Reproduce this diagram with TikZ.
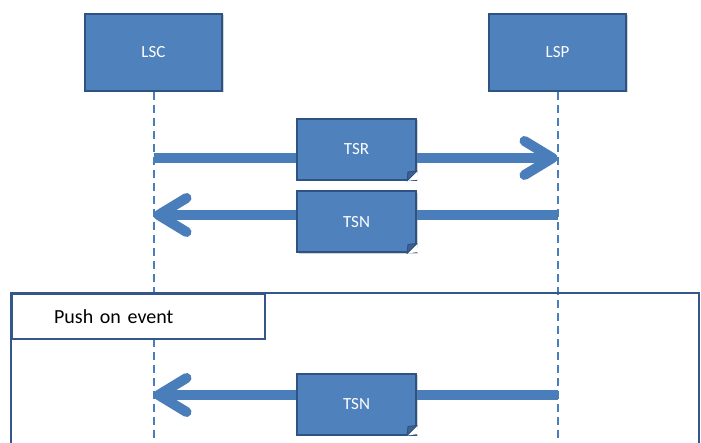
\documentclass[tikz,border=0pt]{standalone}
\usepackage{fontspec}
\setmainfont{Carlito}
\usetikzlibrary{arrows.meta,shadows}

\definecolor{boxfill}{HTML}{4F81BD}
\definecolor{boxline}{HTML}{2E5282}
\definecolor{msgline}{HTML}{4A7EBB}
\definecolor{framecol}{HTML}{34578A}

\tikzset{
	party/.style={draw=boxline, line width=2.2pt, fill=boxfill, text=white,
		minimum width=137pt, minimum height=77pt,
		drop shadow={opacity=0.35, shadow xshift=1.5pt, shadow yshift=-1.5pt},
		font=\fontsize{17}{20}\selectfont},
	msgbox/.style={draw=boxline, line width=2pt, fill=boxfill, text=white,
		minimum width=119pt, minimum height=61pt,
		drop shadow={opacity=0.35, shadow xshift=1.5pt, shadow yshift=-1.5pt},
		font=\fontsize{17}{20}\selectfont},
	lifeline/.style={msgline, line width=2pt, dash pattern=on 8pt off 5pt},
	msg/.style={msgline, line width=10pt,
		-{Straight Barb[length=28pt, width=34pt, round]}},
	frame/.style={framecol, line width=2.2pt}
}

% folded corner of a message box
\newcommand{\dogear}[1]{%
	\fill[white] ([xshift=-10pt]#1.south east) -- ([xshift=1.5pt,yshift=1.5pt]#1.south east) -- ([yshift=10pt]#1.south east) -- cycle;
	\filldraw[boxline, fill=boxfill!75!black, line width=1pt, line join=round] ([xshift=-10pt]#1.south east) -- ([xshift=-9pt,yshift=9pt]#1.south east) -- ([yshift=10pt]#1.south east) -- cycle;
}

\begin{document}
\begin{tikzpicture}[x=1pt, y=-1pt]
	\useasboundingbox (0,0) rectangle (701,443);

	\node [party] (lsc) at (153.5,52.5) {LSC};
	\node [party] (lsp) at (557.5,52.5) {LSP};

	\coordinate (lscend) at (lsc.south |- 0,443);
	\coordinate (lspend) at (lsp.south |- 0,443);
	\draw [lifeline] (lsc.south) -- (lscend);
	\draw [lifeline] (lsp.south) -- (lspend);

	% push on event frame
	\draw [frame] (11,448) -- (11,293) -- (699,293) -- (699,448);
	\node [draw=framecol, line width=2.2pt, fill=white, anchor=north west,
		minimum width=253pt, minimum height=45pt, text width=253pt, inner sep=0pt,
		align=left, font=\fontsize{20}{24}\selectfont] (push) at (11,293) {\hspace*{42pt}Push on event};

	% messages
	\coordinate (lscA) at (lsc.south |- 0,158);
	\coordinate (lspA) at (lsp.south |- 0,158);
	\coordinate (lscB) at (lsc.south |- 0,215);
	\coordinate (lspB) at (lsp.south |- 0,215);
	\coordinate (lscC) at (lsc.south |- 0,395);
	\coordinate (lspC) at (lsp.south |- 0,395);

	\draw [msg] (lscA) -- (lspA);
	\draw [msg] (lspB) -- (lscB);
	\draw [msg] (lspC) -- (lscC);

	\node [msgbox] (tsr) at (356.5,149.5) {TSR};
	\dogear{tsr}
	\node [msgbox] (tsn) at (356.5,222) {TSN};
	\dogear{tsn}
	\node [msgbox] (tsnpush) at (356.5,404) {TSN};
	\dogear{tsnpush}
\end{tikzpicture}
\end{document}
